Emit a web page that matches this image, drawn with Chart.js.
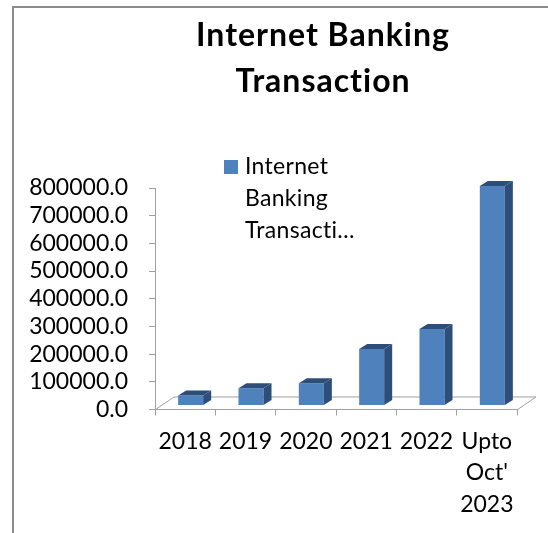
<!DOCTYPE html>
<html>
<head>
<meta charset="utf-8">
<script src="https://cdn.jsdelivr.net/npm/chart.js@4.4.1/dist/chart.umd.min.js"></script>
<style>
  html, body { margin: 0; padding: 0; background: #fff; overflow: hidden; }
  #wrap { position: relative; width: 548px; height: 533px; }
  #frame { position: absolute; left: 12px; top: 6px; width: 560px; height: 560px;
           border-left: 2px solid #8c8c8c; border-top: 2px solid #8c8c8c; }
  #c { position: absolute; left: 0; top: 0; }
</style>
</head>
<body>
<div id="wrap">
  <div id="frame"></div>
  <canvas id="c" width="548" height="533"></canvas>
</div>
<script>
var years = ["2018", "2019", "2020", "2021", "2022", ["Upto", "Oct'", "2023"]];
var transactions = [36000, 62000, 80000, 204000, 276000, 793000];
var seriesName = "Internet Banking Transaction";
var titleLines = ["Internet Banking", "Transaction"];

var FONT = "Lato";
var front = "#4f81bd", side = "#2d4e78", top = "#3b6296";
var axisGrey = "#a0a0a0";
var shift = {x: 5.5, y: -4};    // bars stand a little back on the floor
var depth = {x: 8, y: -5};      // bar depth
var floorDepth = {x: 19, y: -13};

// the 3d look: floor, bar tops and sides
var fake3d = {
    id: 'fake3d',
    beforeDatasetsDraw: function (chart) {
        var ctx = chart.ctx, a = chart.chartArea;
        ctx.save();
        ctx.strokeStyle = axisGrey;
        ctx.lineWidth = 1;
        ctx.beginPath();
        ctx.moveTo(a.left, a.bottom + 0.5);
        ctx.lineTo(a.left + floorDepth.x, a.bottom + floorDepth.y + 0.5);
        ctx.lineTo(a.right + floorDepth.x, a.bottom + floorDepth.y + 0.5);
        ctx.lineTo(a.right, a.bottom + 0.5);
        ctx.stroke();
        ctx.restore();
        ctx.save();
        ctx.translate(shift.x, shift.y);
    },
    afterDatasetsDraw: function (chart) {
        var ctx = chart.ctx;
        chart.getDatasetMeta(0).data.forEach(function (bar) {
            var p = bar.getProps(['x', 'y', 'base', 'width'], true);
            var l = p.x - p.width / 2, r = p.x + p.width / 2;
            ctx.fillStyle = side;
            ctx.beginPath();
            ctx.moveTo(r, p.base);
            ctx.lineTo(r + depth.x, p.base + depth.y);
            ctx.lineTo(r + depth.x, p.y + depth.y);
            ctx.lineTo(r, p.y);
            ctx.closePath();
            ctx.fill();
            ctx.fillStyle = top;
            ctx.beginPath();
            ctx.moveTo(l, p.y);
            ctx.lineTo(l + depth.x, p.y + depth.y);
            ctx.lineTo(r + depth.x, p.y + depth.y);
            ctx.lineTo(r, p.y);
            ctx.closePath();
            ctx.fill();
        });
        ctx.restore();
    }
};

// title and legend as Excel shows them (title centred on the whole Excel chart box)
var excelText = {
    id: 'excelText',
    afterDraw: function (chart) {
        var ctx = chart.ctx;
        var ds = chart.data.datasets[0];
        ctx.save();
        ctx.fillStyle = "#000";
        ctx.textAlign = "center";
        ctx.textBaseline = "alphabetic";
        ctx.font = "bold 32px " + FONT;
        ctx.letterSpacing = "1px";
        titleLines.forEach(function (t, i) {
            ctx.fillText(t, 323, 46 + i * 46);
        });
        ctx.letterSpacing = "0.3px";
        ctx.textAlign = "left";
        ctx.font = "23px " + FONT;
        var words = ds.label.split(' '), lines = [], maxW = 114;
        words.forEach(function (w) {
            if (ctx.measureText(w).width > maxW) {
                while (w.length && ctx.measureText(w + '…').width > maxW) w = w.slice(0, -1);
                w = w + '…';
            }
            lines.push(w);
        });
        ctx.fillStyle = ds.backgroundColor;
        ctx.fillRect(224, 160, 14, 14);
        ctx.fillStyle = "#000";
        lines.forEach(function (t, i) {
            ctx.fillText(t, 245, 174 + i * 32);
        });
        ctx.restore();
    }
};

new Chart(document.getElementById("c"), {
    type: 'bar',
    data: {
        labels: years,
        datasets: [{
            label: seriesName,
            data: transactions,
            backgroundColor: front,
            borderWidth: 0,
            categoryPercentage: 1,
            barPercentage: 0.415
        }]
    },
    options: {
        responsive: false,
        animation: false,
        events: [],
        layout: { padding: { left: 0, right: 31, top: 188, bottom: 3 } },
        plugins: {
            legend: { display: false },
            tooltip: { enabled: false },
            title: { display: false }
        },
        scales: {
            x: {
                grid: { drawOnChartArea: false, tickLength: 6, color: axisGrey, offset: true },
                border: { color: axisGrey },
                ticks: { color: "#000", padding: 10, maxRotation: 0, autoSkip: false,
                         font: { family: FONT, size: 23, lineHeight: 1.37 } }
            },
            y: {
                min: 0,
                max: 800000,
                afterFit: function (s) { s.width = 155; },
                grid: { drawOnChartArea: false, tickLength: 6, color: axisGrey },
                border: { color: axisGrey },
                ticks: { stepSize: 100000, autoSkip: false, color: "#000", padding: 21,
                         font: { family: FONT, size: 23 },
                         callback: function (v) { return v.toFixed(1); } }
            }
        }
    },
    plugins: [fake3d, excelText]
});
</script>
</body>
</html>
